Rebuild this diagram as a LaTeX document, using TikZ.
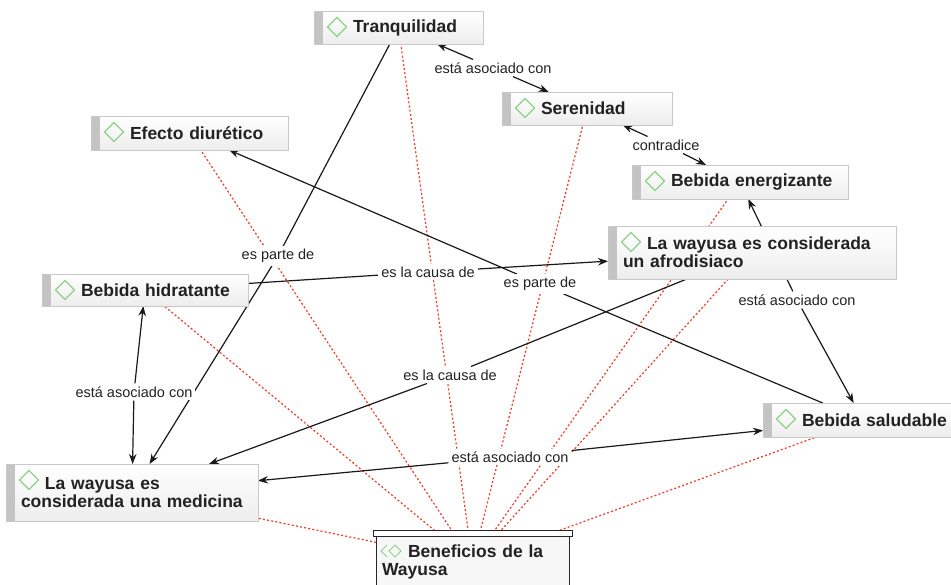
\documentclass[tikz,border=0pt]{standalone}
\usepackage{fontspec}
\setmainfont{Liberation Sans}
\usetikzlibrary{arrows.meta,backgrounds}
\definecolor{txt}{HTML}{222222}
\definecolor{bord}{HTML}{C8C8C8}
\definecolor{barc}{HTML}{C4C4C4}
\definecolor{diam}{HTML}{8FD18A}
\definecolor{redd}{HTML}{EC3B2B}
\tikzset{
  concept/.style={rectangle, draw=bord, line width=0.8pt, top color=white, bottom color=black!7,
    anchor=north west, inner xsep=15pt, inner ysep=0pt, outer sep=0pt, align=left, text=txt,
    font=\fontsize{17.5}{18}\selectfont\bfseries,
    path picture={
      \fill[barc] (path picture bounding box.north west) rectangle ([xshift=9pt]path picture bounding box.south west);
      \draw[diam, line width=1.1pt] ([shift={(23pt,-6.5pt)}]path picture bounding box.north west)
        -- ++(9.5pt,-9.5pt) -- ++(-9.5pt,-9.5pt) -- ++(-9.5pt,9.5pt) -- cycle;}},
  bennode/.style={rectangle, draw=black!85, line width=1pt, fill=black!3,
    anchor=north west, inner xsep=6pt, inner ysep=0pt, outer sep=0pt, align=left, text=txt,
    font=\fontsize{17.5}{18}\selectfont\bfseries,
    path picture={
      \draw[diam, line width=1pt] ([shift={(11pt,-9pt)}]path picture bounding box.north west)
        -- ++(-6pt,-6pt) -- ++(6pt,-6pt);
      \draw[diam, line width=1pt] ([shift={(19pt,-9pt)}]path picture bounding box.north west)
        -- ++(6pt,-6pt) -- ++(-6pt,-6pt) -- ++(-6pt,6pt) -- cycle;}},
  lbl/.style={fill=white, inner sep=3pt, text=txt, font=\fontsize{14.5}{16}\selectfont},
  blk/.style={draw=black!90, line width=1.2pt},
  arr/.style={blk, -{Stealth[length=10pt,width=7.5pt]}},
  redl/.style={draw=redd, line width=1.2pt, dash pattern=on 2pt off 2.2pt}
}
\begin{document}
\begin{tikzpicture}[x=1pt,y=-1pt]
\useasboundingbox (0,0) rectangle (951,584);
% concepts
\node[concept, text width=139pt, minimum height=33pt] (tr) at (314,11) {\hspace*{24pt}Tranquilidad};
\node[concept, text width=140pt, minimum height=33pt] (se) at (502,92) {\hspace*{24pt}Serenidad};
\node[concept, text width=167pt, minimum height=34pt] (ef) at (91,116) {\hspace*{24pt}Efecto diurético};
\node[concept, text width=186pt, minimum height=34pt] (en) at (632,165) {\hspace*{24pt}Bebida energizante};
\node[concept, text width=258pt, minimum height=53pt] (af) at (608,226) {\hspace*{24pt}La wayusa es considerada\\un afrodisiaco};
\node[concept, text width=176pt, minimum height=32pt] (hi) at (42,274) {\hspace*{24pt}Bebida hidratante};
\node[concept, text width=170pt, minimum height=34pt] (sa) at (763,403) {\hspace*{24pt}Bebida saludable};
\node[concept, text width=222pt, minimum height=57pt] (me) at (6,464) {\hspace*{24pt}La wayusa es\\considerada una medicina};
\node[bennode, text width=181pt, minimum height=52pt] (ben) at (376,536) {\hspace*{26pt}Beneficios de la\\Wayusa};
\draw[black!85, line width=1pt, fill=white] ([xshift=-3pt]ben.north west) rectangle ([xshift=3pt,yshift=6pt]ben.north east);
% linking phrases
\node[lbl] (l1) at (493,68) {está asociado con};
\node[lbl] (l2) at (666,145) {contradice};
\node[lbl] (l3) at (278,256) {es parte de};
\node[lbl] (l4) at (428,272) {es la causa de};
\node[lbl] (l5) at (540,284) {es parte de};
\node[lbl] (l6) at (797,300) {está asociado con};
\node[lbl] (l7) at (450,375) {es la causa de};
\node[lbl] (l8) at (134,392) {está asociado con};
\node[lbl] (l9) at (510,457) {está asociado con};
\begin{scope}[on background layer]
\fill[white] (0,0) rectangle (951,584);
% dotted links to the root
\foreach \n in {tr,se,ef,en,af,hi,sa,me}{\draw[redl] (ben) -- (\n);}
% propositions
\draw[arr] (l1) -- (tr);
\draw[arr] (l1) -- (se);
\draw[arr] (l2) -- (se);
\draw[arr] (l2) -- (en);
\draw[blk] (tr) -- (l3);
\draw[arr] (l3) -- (me);
\draw[blk] (hi) -- (l4);
\draw[arr] (l4) -- (af);
\draw[blk] (sa) -- (l5);
\draw[arr] (l5) -- (ef);
\draw[arr] (l6) -- (en);
\draw[arr] (l6) -- (sa);
\draw[blk] (af) -- (l7);
\draw[arr] (l7) -- (me);
\draw[arr] (l8) -- (hi);
\draw[arr] (l8) -- (me);
\draw[arr] (l9) -- (me);
\draw[arr] (l9) -- (sa);
\end{scope}
\end{tikzpicture}
\end{document}
